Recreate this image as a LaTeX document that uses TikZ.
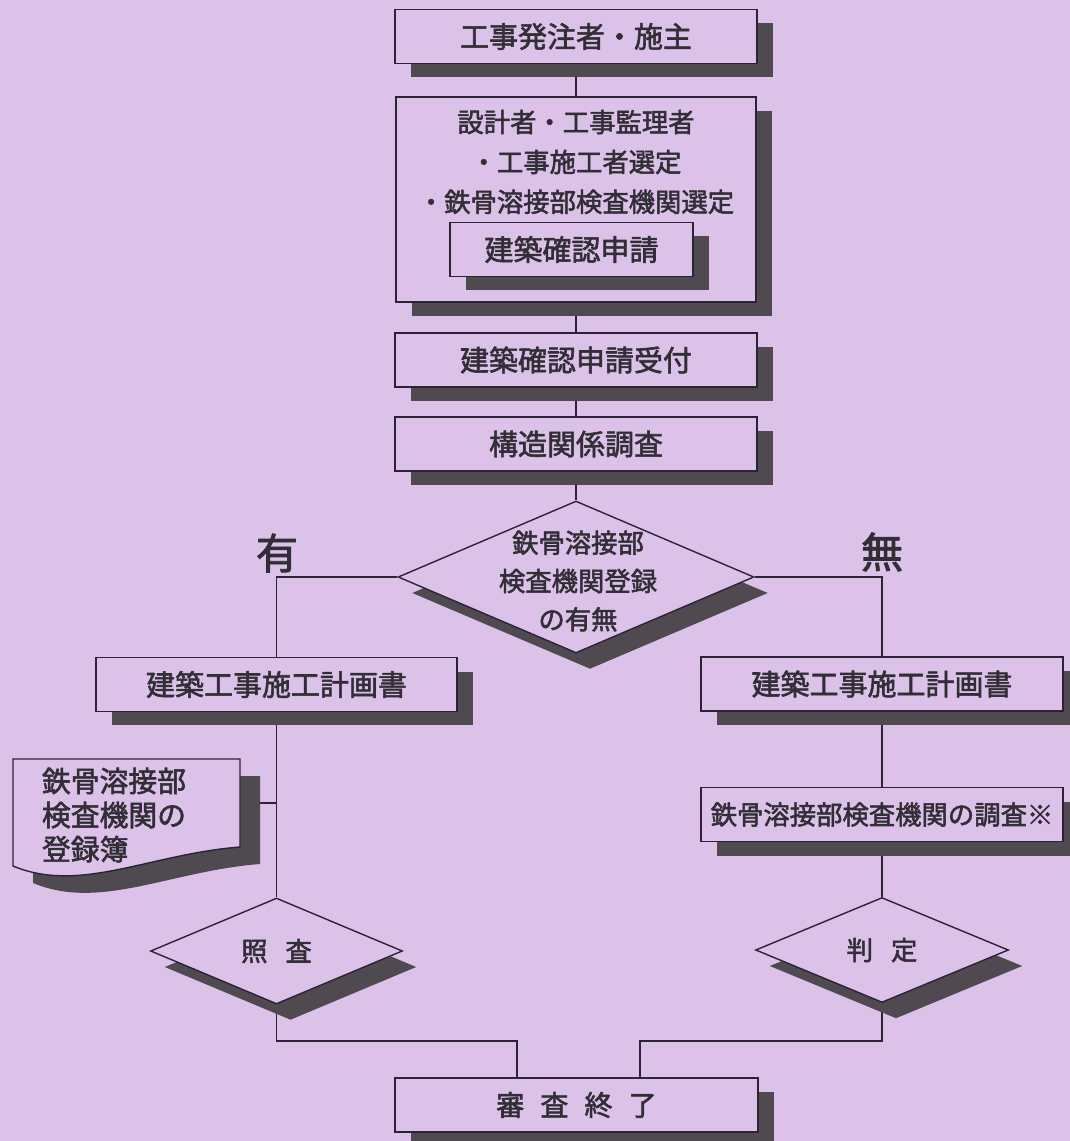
\documentclass[tikz,border=0pt]{standalone}
\usepackage{fontspec}
\setmainfont{Noto Sans CJK JP}[BoldFont={Noto Sans CJK JP}, BoldFeatures={FakeBold=2}]
\usetikzlibrary{shapes.geometric,shadows,backgrounds}

\definecolor{lavender}{RGB}{220,193,233}
\definecolor{shadowgray}{RGB}{78,74,80}
\definecolor{ink}{RGB}{45,35,55}
\definecolor{txt}{RGB}{50,46,54}

\tikzset{
	flowbox/.style={draw=ink, fill=lavender, line width=0.8pt, text=txt,
		inner sep=0pt, minimum height=1.08cm,
		font=\bfseries\fontsize{16.5}{20}\selectfont,
		drop shadow={shadow xshift=0.32cm, shadow yshift=-0.28cm, fill=shadowgray, opacity=1}},
	decision/.style={diamond, draw=ink, fill=lavender, line width=0.8pt, inner sep=0pt,
		drop shadow={shadow xshift=0.28cm, shadow yshift=-0.32cm, fill=shadowgray, opacity=1}},
	dtext/.style={align=center, text=txt, font=\bfseries\fontsize{15}{21.8}\selectfont},
	yesno/.style={text=txt, font=\bfseries\fontsize{24}{28}\selectfont},
	link/.style={draw=ink, line width=0.8pt},
}

\begin{document}
\begin{tikzpicture}[x=0.02cm, y=-0.02cm]
		
		\useasboundingbox (0,0) rectangle (1070,1141);
		\begin{scope}[on background layer]
			\fill[lavender] (0,0) rectangle (1070,1141);
		\end{scope}
		
		% Main column
		\node[flowbox, minimum width=7.24cm] (owner) at (576,36.5) {工事発注者・施主};
		
		\node[flowbox, minimum width=7.2cm, minimum height=4.1cm] (design) at (576,199.5) {};
		
		\node[align=center, text=txt, font=\bfseries\fontsize{15}{22.7}\selectfont] (designtxt) at (576,162)
		{設計者・工事監理者\\・工事施工者選定\\・鉄骨溶接部検査機関選定};
		
		\node[flowbox, minimum width=4.86cm] (apply) at (571.5,249.5) {建築確認申請};
		
		\node[flowbox, minimum width=7.24cm] (accept) at (576,360) {建築確認申請受付};
		
		\node[flowbox, minimum width=7.24cm] (survey) at (576,444) {構造関係調査};
		
		% Registration check
		\node[decision, minimum width=7.12cm, minimum height=3.04cm] (reg) at (576,577) {};
		
		\node[dtext] (regtxt) at (578,581) {鉄骨溶接部\\検査機関登録\\の有無};
		
		\node[yesno] (yes) at (277,553) {有};
		
		\node[yesno] (no) at (882,552) {無};
		
		% Left branch
		\node[flowbox, minimum width=7.22cm] (planL) at (276.5,684.5) {建築工事施工計画書};
		
		\fill[shadowgray, shift={(20,17)}] (13,759) -- (240,759) -- (240,847)
		.. controls (150,854) and (80,894) .. (13,866) -- cycle;
		
		\draw[ink, fill=lavender, line width=0.8pt] (13,759) -- (240,759) -- (240,847)
		.. controls (150,854) and (80,894) .. (13,866) -- cycle;
		
		\node[align=left, text=txt, font=\bfseries\fontsize{16.4}{19.4}\selectfont] (list) at (114,815)
		{鉄骨溶接部\\検査機関の\\登録簿};
		
		\coordinate (listE) at (240,803);
		
		\node[decision, minimum width=5.04cm, minimum height=2.12cm] (match) at (276.5,951) {};
		
		\node[dtext] (matchtxt) at (match) {照\hspace{0.68em}査};
		
		% Right branch
		\node[flowbox, minimum width=7.24cm] (planR) at (882,684) {建築工事施工計画書};
		
		\node[flowbox, minimum width=7.24cm, font=\bfseries\fontsize{15}{18}\selectfont] (check) at (882,814.5)
		{鉄骨溶接部検査機関の調査※};
		
		\node[decision, minimum width=5.06cm, minimum height=2.1cm] (judge) at (882,950) {};
		
		\node[dtext] (judgetxt) at (judge) {判\hspace{0.68em}定};
		
		% End
		\node[flowbox, minimum width=7.26cm, font=\bfseries\fontsize{16}{20}\selectfont] (done) at (576.5,1105)
		{審\hspace{0.57em}査\hspace{0.57em}終\hspace{0.57em}了};
		
		\coordinate (joinL) at (517,1041);
		\coordinate (joinR) at (640,1041);
		
		% Connectors
		\begin{scope}[on background layer]
			\draw[link] (owner.south) -- (design.north);
			\draw[link] (design.south) -- (accept.north);
			\draw[link] (accept.south) -- (survey.north);
			\draw[link] (survey.south) -- (reg.north);
			\draw[link] (reg.west) -| (planL.north);
			\draw[link] (reg.east) -| (planR.north);
			\draw[link] (planL.south) -- (match.north);
			\draw[link] (listE) -- (listE -| planL.south);
			\draw[link] (planR.south) -- (check.north);
			\draw[link] (check.south) -- (judge.north);
			\draw[link] (match.south) |- (joinL) -- (joinL |- done.north);
			\draw[link] (judge.south) |- (joinR) -- (joinR |- done.north);
		\end{scope}
		
	\end{tikzpicture}
\end{document}
